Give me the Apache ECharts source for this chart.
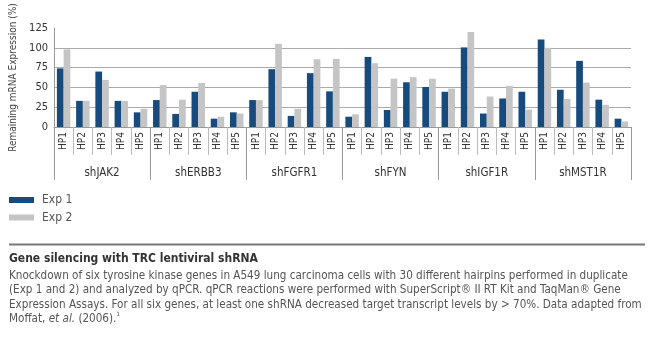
<!DOCTYPE html>
<html><head><meta charset="utf-8">
<script src="https://cdn.jsdelivr.net/npm/echarts@6/dist/echarts.min.js"></script>
<style>html,body{margin:0;padding:0;background:#fff}#c{width:650px;height:361px}</style>
</head><body><div id="c"></div>
<script>
const genes = ['shJAK2','shERBB3','shFGFR1','shFYN','shIGF1R','shMST1R'];
const hairpins = ['HP1','HP2','HP3','HP4','HP5'];
const exp1 = [74,33,70,33,18.5, 34,16.5,44.5,10.5,18.5, 34,73,14,68,45, 13,88.5,21.5,56.5,50.5, 44.5,100.5,17,36,44.5, 110.5,47,83.5,34.5,10.5];
const exp2 = [98,33,59.5,33,23, 53,34.5,55.5,13,17, 34,105,23,85.5,86, 16,80.5,61,63,61, 48.5,120,38.5,52,22, 100,35.5,56,28,7];
const yTicks = [0,25,50,75,100,125];
const seriesNames = ['Exp 1','Exp 2'];

const FONT = '"DejaVu Sans Condensed","Liberation Sans Narrow",sans-serif';
const cats = [];
genes.forEach(g => hairpins.forEach(h => cats.push(g + '|' + h)));

const chart = echarts.init(document.getElementById('c'), null, {renderer:'canvas'});
chart.setOption({
  animation:false,
  textStyle:{fontFamily:FONT},
  grid:{left:51, right:19, top:28, bottom:234},
  legend:{
    orient:'vertical', left:9, top:194, padding:0, itemWidth:25, itemHeight:6, itemGap:5.5,
    icon:'rect', data:seriesNames,
    textStyle:{fontFamily:FONT, fontSize:12, color:'#555', padding:[0,0,0,3]}
  },
  xAxis:[{
    type:'category', data:cats, position:'bottom',
    axisLine:{lineStyle:{color:'#999', width:1}},
    axisTick:{show:true, length:28, lineStyle:{color:'#bbb'}},
    axisLabel:{rotate:90, interval:0, margin:5, fontSize:10, color:'#333', fontFamily:FONT,
      formatter:v => v.split('|')[1]}
  },{
    type:'category', data:genes, position:'bottom', gridIndex:0,
    axisLine:{show:false},
    axisTick:{show:true, length:53, lineStyle:{color:'#999'}},
    axisLabel:{margin:40, fontSize:11.5, color:'#333', fontFamily:FONT}
  }],
  yAxis:{
    type:'value', min:yTicks[0], max:yTicks[yTicks.length-1], interval:25,
    name:'Remaining mRNA Expression (%)', nameLocation:'middle', nameGap:36, nameRotate:90,
    nameTextStyle:{fontSize:10, color:'#444', fontFamily:FONT},
    axisLine:{show:true, lineStyle:{color:'#999'}},
    axisTick:{show:false},
    axisLabel:{fontSize:11, color:'#333', margin:6, fontFamily:FONT},
    splitLine:{show:true, lineStyle:{color:['#aaa','#aaa','#aaa','#aaa','#aaa','rgba(0,0,0,0)'], width:1}}
  },
  series:[
    {name:seriesNames[0], type:'bar', data:exp1, barGap:'0%', barCategoryGap:'30%', itemStyle:{color:'#174b7d'}},
    {name:seriesNames[1], type:'bar', data:exp2, barGap:'0%', barCategoryGap:'30%', itemStyle:{color:'#c5c5c5'}}
  ],
  graphic:[
    {type:'line', shape:{x1:9, y1:244.5, x2:645, y2:244.5}, style:{stroke:'#777', lineWidth:2}},
    {type:'text', left:9, top:253, style:{text:'Gene silencing with TRC lentiviral shRNA', font:'bold 12px ' + FONT, fill:'#333'}},
    {type:'text', left:9, top:269, style:{
      text:'Knockdown of six tyrosine kinase genes in A549 lung carcinoma cells with 30 different hairpins performed in duplicate\n(Exp 1 and 2) and analyzed by qPCR. qPCR reactions were performed with SuperScript® II RT Kit and TaqMan® Gene\nExpression Assays. For all six genes, at least one shRNA decreased target transcript levels by > 70%. Data adapted from\nMoffat, {i|et al.} (2006).{s|1}',
      font:'11.6px ' + FONT, fill:'#555', lineHeight:14.3,
      rich:{i:{fontStyle:'italic', fontSize:11.6, fontFamily:FONT, fill:'#555', lineHeight:14.3}, s:{fontSize:6, fontFamily:FONT, fill:'#555', verticalAlign:'top', lineHeight:14.3}}
    }}
  ]
});
</script></body></html>
